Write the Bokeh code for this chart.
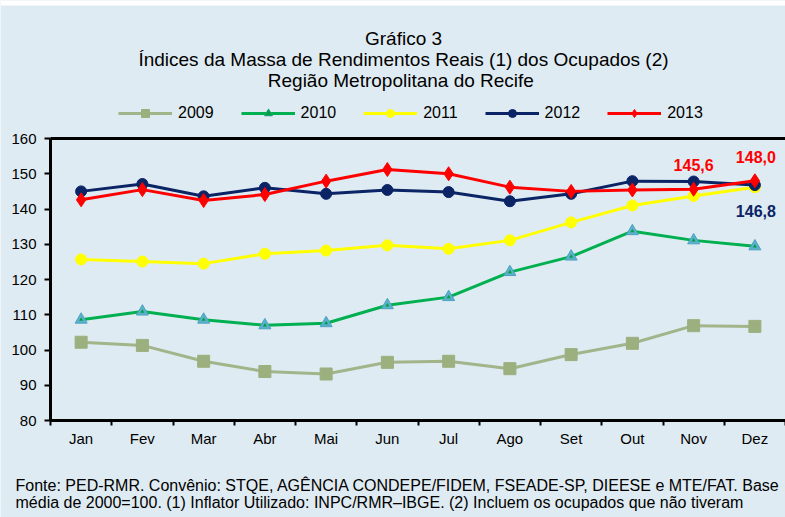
from bokeh.plotting import figure
from bokeh.models import (Label, Legend, LegendItem, FixedTicker, Range1d, LinearAxis,
                          BoxAnnotation)
from bokeh.embed import file_html
from bokeh.resources import INLINE

months = ["Jan", "Fev", "Mar", "Abr", "Mai", "Jun", "Jul", "Ago", "Set", "Out", "Nov", "Dez"]
y2009 = [102.2, 101.3, 96.8, 93.9, 93.2, 96.5, 96.8, 94.7, 98.7, 101.9, 106.9, 106.7]
y2010 = [108.6, 110.9, 108.6, 107.0, 107.6, 112.7, 115.0, 122.1, 126.5, 133.7, 131.1, 129.4]
y2011 = [125.7, 125.1, 124.5, 127.3, 128.2, 129.7, 128.7, 131.1, 136.2, 141.0, 143.7, 146.2]
y2012 = [145.0, 147.1, 143.6, 146.0, 144.3, 145.4, 144.8, 142.2, 144.3, 147.9, 147.8, 146.8]
y2013 = [142.6, 145.5, 142.4, 144.1, 147.9, 151.2, 150.0, 146.2, 145.0, 145.4, 145.6, 148.0]
yticks = [80, 90, 100, 110, 120, 130, 140, 150, 160]

title_lines = ["Gráfico 3",
               "Índices da Massa de Rendimentos Reais (1) dos Ocupados (2)",
               "Região Metropolitana  do Recife"]
footer_lines = ["Fonte: PED-RMR. Convênio: STQE, AGÊNCIA CONDEPE/FIDEM, FSEADE-SP, DIEESE e MTE/FAT. Base",
                "média de 2000=100. (1) Inflator Utilizado: INPC/RMR–IBGE. (2) Incluem os ocupados que não tiveram"]

FONT = "Liberation Sans"
BG = "#DFEBF2"
W, H = 785, 517
xs = list(range(len(months)))

# The frame covers the whole canvas; axes are pinned with fixed_location so that
# titles, legend and notes can be drawn as annotations without being clipped.
AX_LEFT_PX = 50          # where the value axis sits
AX_BOTTOM_PX = 420       # where the month axis sits
PX_PER_Y = 282 / 80.0
PX_PER_X = (W - AX_LEFT_PX) / 12.0
X0 = -0.5 - AX_LEFT_PX / PX_PER_X
Y0 = 80 - (H - AX_BOTTOM_PX) / PX_PER_Y
Y1 = 80 + AX_BOTTOM_PX / PX_PER_Y

def y_at(page_y):
    return 80 + (AX_BOTTOM_PX - page_y) / PX_PER_Y

def x_at(page_x):
    return -0.5 + (page_x - AX_LEFT_PX) / PX_PER_X

p = figure(width=W, height=H, x_range=Range1d(X0, 11.5), y_range=Range1d(Y0, Y1),
           output_backend="svg", toolbar_location=None,
           min_border_left=0, min_border_right=0, min_border_top=0, min_border_bottom=0,
           background_fill_color=BG, border_fill_color=BG, outline_line_color=None)
p.xgrid.visible = False
p.ygrid.visible = False

# thin white strip at the very top, as in the source image
p.add_layout(BoxAnnotation(bottom=y_at(5), fill_color="white", fill_alpha=1, line_color=None))

# x axis
xa = p.xaxis[0]
xa.fixed_location = 80
xa.bounds = (-0.5, 11.5)
xa.ticker = FixedTicker(ticks=xs, minor_ticks=[i - 0.5 for i in range(len(months) + 1)])
xa.major_label_overrides = {i: m for i, m in enumerate(months)}
xa.axis_line_width = 3
xa.axis_line_color = "black"
xa.major_tick_line_color = None
xa.major_tick_out = 0
xa.minor_tick_out = 5
xa.minor_tick_in = 0
xa.minor_tick_line_width = 2
xa.minor_tick_line_color = "black"
xa.major_label_text_font = FONT
xa.major_label_text_font_size = "15px"
xa.major_label_text_color = "black"
xa.major_label_standoff = 4

# y axis
ya = p.yaxis[0]
ya.fixed_location = -0.5
ya.bounds = (80, 160)
ya.ticker = FixedTicker(ticks=yticks)
ya.axis_line_width = 3
ya.axis_line_color = "black"
ya.major_tick_out = 6
ya.major_tick_in = 0
ya.major_tick_line_width = 2
ya.minor_tick_line_color = None
ya.major_label_text_font = FONT
ya.major_label_text_font_size = "15px"
ya.major_label_text_color = "black"
ya.major_label_standoff = 8

# top border of the plot area
top = LinearAxis(fixed_location=160, bounds=(-0.5, 11.5), ticker=FixedTicker(ticks=[]),
                 axis_line_width=3, axis_line_color="black",
                 major_tick_line_color=None, minor_tick_line_color=None)
p.add_layout(top, "above")

series = [
    ("2009", y2009, "#A2B48A", "square", 12, "#9CAF7E", "#9CAF7E"),
    ("2010", y2010, "#00B050", "triangle", 12, "#5BB0CA", "#4BA3C0"),
    ("2011", y2011, "#FFFF00", "circle", 11, "#FFFF00", "#FFFF00"),
    ("2012", y2012, "#0A2466", "circle", 11, "#0A2466", "#0A2466"),
    ("2013", y2013, "#FF0000", "diamond", 14, "#FF0000", "#FF0000"),
]
items = []
for name, ys, lc, mk, sz, fc, mlc in series:
    l = p.line(xs, ys, line_color=lc, line_width=3)
    s = p.scatter(xs, ys, marker=mk, size=sz, fill_color=fc, line_color=mlc, line_width=1)
    rs = [l, s]
    if name == "2010":
        s2 = p.scatter(xs, ys, marker="triangle", size=4, fill_color="#00A040", line_color=None)
        rs.append(s2)
    items.append(LegendItem(label=name, renderers=rs))

legend = Legend(items=items, orientation="horizontal", location=(118, 394),
                glyph_width=54, glyph_height=20, label_standoff=6, spacing=27,
                padding=0, margin=0, border_line_color=None, background_fill_alpha=0,
                label_text_font=FONT, label_text_font_size="16px", label_height=20,
                label_text_color="black")
p.add_layout(legend)

for i, t in enumerate(title_lines):
    p.add_layout(Label(x=x_at(403), y=y_at(38 + 21 * i), text=t,
                       text_align="center", text_baseline="middle", text_font=FONT,
                       text_font_size="19px", text_color="black"))

for i, t in enumerate(footer_lines):
    p.add_layout(Label(x=x_at(15), y=y_at(485 + 17 * i), text=t,
                       text_align="left", text_baseline="middle", text_font=FONT,
                       text_font_size="16px", text_color="black"))

# data labels
def fmt(v):
    return f"{v:.1f}".replace(".", ",")

label_style = dict(text_align="center", text_baseline="middle", text_font=FONT,
                   text_font_size="16px", text_font_style="bold")
p.add_layout(Label(x=10, y=y2013[10], x_offset=0, y_offset=24, text=fmt(y2013[10]),
                   text_color="#FF0000", **label_style))
p.add_layout(Label(x=11, y=y2013[11], x_offset=1, y_offset=24, text=fmt(y2013[11]),
                   text_color="#FF0000", **label_style))
p.add_layout(Label(x=11, y=y2012[11], x_offset=1, y_offset=-26, text=fmt(y2012[11]),
                   text_color="#0A2466", **label_style))

open("out.html", "w").write(file_html(p, INLINE))
